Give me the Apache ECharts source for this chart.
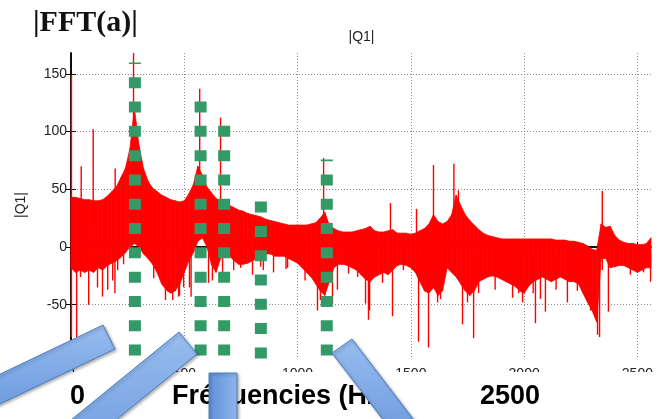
<!DOCTYPE html>
<html><head><meta charset="utf-8">
<script src="https://cdn.jsdelivr.net/npm/echarts@6/dist/echarts.min.js"></script>
<style>html,body{margin:0;padding:0;background:#fff;}#c{width:663px;height:419px;}</style>
</head><body><div id="c"></div>
<script>
// Frequency grid (Hz) of the spectrum envelope
const freqHz = [0,20,40,60,80,100,120,140,160,180,200,220,240,260,280,300,320,340,360,380,400,420,440,460,480,500,520,540,560,580,600,620,640,660,680,700,720,740,760,780,800,820,840,860,880,900,920,940,960,980,1000,1020,1040,1060,1080,1100,1120,1140,1160,1180,1200,1220,1240,1260,1280,1300,1320,1340,1360,1380,1400,1420,1440,1460,1480,1500,1520,1540,1560,1580,1600,1620,1640,1660,1680,1700,1720,1740,1760,1780,1800,1820,1840,1860,1880,1900,1920,1940,1960,1980,2000,2020,2040,2060,2080,2100,2120,2140,2160,2180,2200,2220,2240,2260,2280,2300,2320,2340,2360,2380,2400,2420,2440,2460,2480,2500,2520,2540,2560];
// Upper edge of |Q1|
const upperDb = [43,43,42,41,41,40,40,41,44,48,52,60,68,85,120,88,68,57,51,48,45,43,41,40,39,40,46,54,70,62,52,47,42,40,38,36,34,32,31,29,28,27,26,24,23,22,21,20,19,19,19,19,19,20,21,25,30,19,16,14,13,13,13,14,15,16,18,14,13,13,14,15,12,12,12,11,12,14,16,20,28,22,20,22,28,45,36,28,23,19,15,12,10,9,8,7,7,7,7,7,7,7,7,7,7,7,7,6,6,6,5,5,4,3,1,-2,-3,20,17,18,10,6,4,3,3,2,2,3,8];
// Lower edge of the dense part of |Q1|
const lowerDb = [-18,-22,-20,-22,-20,-22,-18,-20,-16,-14,-12,-9,-5,0,3,0,-6,-10,-15,-22,-32,-37,-40,-38,-32,-22,-12,-5,5,8,0,-15,-22,-10,-5,-8,-12,-15,-15,-14,-12,-10,-8,-6,-6,-8,-8,-8,-10,-12,-14,-18,-22,-26,-32,-38,-42,-30,-18,-15,-15,-16,-18,-20,-24,-28,-30,-26,-24,-22,-24,-20,-16,-15,-16,-18,-22,-30,-38,-40,-35,-42,-38,-18,-22,-26,-32,-38,-42,-38,-30,-28,-26,-25,-26,-28,-30,-32,-34,-38,-40,-34,-30,-28,-26,-28,-30,-28,-26,-28,-30,-30,-32,-40,-48,-55,-65,-10,-10,-18,-17,-16,-16,-18,-20,-22,-20,-18,-18];
// Narrow lines [freq, from, to]
const spikes = [
 [2,-78,149],[25,-78,30],[45,20,70],[98,20,102],[195,30,68],[276,20,175],[568,30,137],[660,10,112],
 [1115,0,77],[1410,0,38],[1525,0,33],[1600,0,71],[1690,0,72],[1710,0,49],[2345,-20,48.5],
 [42,-26,-5],[78,-50,-5],[117,-35,-5],[139,-43,-5],[162,-37,-5],[184,-29,-5],[194,-40,-5],[206,-20,-5],[232,-15,-5],
 [365,-27,-5],[417,-46,-5],[429,-39,-5],[449,-46,-5],[475,-43,-5],[479,-42,-5],[497,-35,-5],[523,-35,-5],[530,-43,-5],
 [607,-31,-5],[624,-29,-5],[669,-29,-5],
 [718,-20,-5],[749,-18,-5],[801,-24,-5],[837,-17,-5],[849,-20,-5],[894,-22,-5],[949,-19,-5],[956,-18,-5],[1033,-29,-5],
 [1057,-26,-5],[1088,-55,-5],[1101,-46,-5],
 [1154,-49,-5],[1176,-37,-5],[1225,-23,-5],[1265,-26,-5],[1300,-49,-5],[1313,-63,-5],[1318,-55,-5],
 [1375,-31,-5],[1419,-60,-5],[1467,-20,-5],[1534,-82,-5],[1578,-87,-5],[1618,-48,-5],[1631,-45,-5],[1728,-67,-5],
 [1750,-48,-5],[1777,-79,-5],[1799,-40,-5],[1872,-37,-5],[1949,-44,-5],
 [1976,-40,-5],[1993,-48,-5],[2040,-40,-5],[2050,-66,-5],[2072,-45,-5],[2094,-56,-5],[2141,-37,-5],[2191,-48,-5],
 [2235,-38,-5],[2293,-55,-10],
 [2324,-76,-10],[2333,-78,-10],[2372,-56,-5],[2469,-24,-5],[2527,-22,-5],[2558,-30,-5]
];
// Green dotted marker lines
const markerFreqs = [282, 572, 676, 838, 1129];
const markerFrom = [-94, -94, -94, -96.5, -94];
const markerTo = [159.7, 131.6, 110, 45, 75.8];
const xTicks = [0, 500, 1000, 1500, 2000, 2500];
const yTicks = [-50, 0, 50, 100, 150];

// band segments between consecutive frequencies (built from the arrays above)
const bandSegs = [];
for (let i = 0; i < freqHz.length - 1; i++) {
  bandSegs.push([freqHz[i], lowerDb[i], upperDb[i], freqHz[i + 1], lowerDb[i + 1], upperDb[i + 1]]);
}
const markers = markerFreqs.map((f, i) => [f, markerFrom[i], markerTo[i]]);

const SANS = "'Liberation Sans', Arial, sans-serif";
function clampY(cs, y) { return Math.max(cs.y, Math.min(cs.y + cs.height, y)); }
function bandRender(params, api) {
  const cs = params.coordSys;
  const pts = [
    api.coord([api.value(0), api.value(2)]),
    api.coord([api.value(3), api.value(5)]),
    api.coord([api.value(3), api.value(4)]),
    api.coord([api.value(0), api.value(1)])
  ].map(p => [p[0], clampY(cs, p[1])]);
  return { type: 'polygon', shape: { points: pts },
    style: { fill: '#ff0000', stroke: '#ff0000', lineWidth: 0.8 } };
}
function spikeRender(params, api) {
  const cs = params.coordSys;
  const a = api.coord([api.value(0), api.value(1)]);
  const b = api.coord([api.value(0), api.value(2)]);
  return { type: 'line', shape: { x1: a[0], y1: clampY(cs, a[1]), x2: b[0], y2: clampY(cs, b[1]) },
    style: { stroke: '#ff0000', lineWidth: 1.4 } };
}
function markerRender(params, api) {
  const a = api.coord([api.value(0), api.value(1)]);
  const b = api.coord([api.value(0), api.value(2)]);
  return { type: 'line', shape: { x1: a[0], y1: a[1], x2: b[0], y2: b[1] },
    style: { stroke: '#339966', lineWidth: 12, lineDash: [11, 13.3], lineCap: 'butt' } };
}
const gridLine = { show: true, lineStyle: { color: '#8a8a8a', width: 1, type: [1, 2] } };
const axisLineBlack = { show: true, lineStyle: { color: '#000', width: 1.5 } };
const tickIn = (vals) => ({ show: true, inside: true, length: 5, customValues: vals, lineStyle: { color: '#000', width: 1 } });
const plain = v => String(v);

const arrowFill = () => new echarts.graphic.LinearGradient(0, 0, 0, 1, [
  { offset: 0, color: '#97bcef' }, { offset: 1, color: '#5f90d8' }]);
const arrowStyle = () => ({ fill: arrowFill(), stroke: '#4d7cbf', lineWidth: 1,
  shadowBlur: 3, shadowColor: 'rgba(0,0,0,0.3)', shadowOffsetX: 1.5, shadowOffsetY: 1.5 });

const chart = echarts.init(document.getElementById('c'), null, { renderer: 'canvas' });
chart.setOption({
  animation: false,
  backgroundColor: '#fff',
  grid: { left: 71, right: 12, top: 53, bottom: 60, show: false },
  xAxis: [
    { type: 'value', min: 0, max: 2560, position: 'bottom', axisLine: axisLineBlack, axisTick: tickIn(xTicks),
      axisLabel: { customValues: xTicks, formatter: plain, margin: 8, fontSize: 14, color: '#222', fontFamily: SANS },
      splitLine: gridLine },
    { type: 'value', min: 0, max: 2560, position: 'top', axisLine: axisLineBlack, axisTick: tickIn(xTicks),
      axisLabel: { show: false }, splitLine: { show: false } }
  ],
  yAxis: [
    { type: 'value', min: -97, max: 168, position: 'left', axisLine: axisLineBlack, axisTick: tickIn(yTicks),
      axisLabel: { customValues: yTicks, formatter: plain, margin: 4, fontSize: 14, color: '#222', fontFamily: SANS },
      splitLine: gridLine },
    { type: 'value', min: -97, max: 168, position: 'right', axisLine: axisLineBlack, axisTick: tickIn(yTicks),
      axisLabel: { show: false }, splitLine: { show: false } }
  ],
  series: [
    { type: 'custom', data: bandSegs, renderItem: bandRender, encode: { x: [0, 3], y: [1, 2, 4, 5] }, silent: true, z: 2 },
    { type: 'custom', data: spikes, renderItem: spikeRender, encode: { x: 0, y: [1, 2] }, silent: true, z: 3 },
    { type: 'custom', data: markers, renderItem: markerRender, encode: { x: 0, y: [1, 2] }, silent: true, z: 4 }
  ],
  graphic: [
    { type: 'text', z: 40, style: { x: 33, y: 23, text: '|FFT(a)|', font: "bold 30px 'Liberation Serif', 'Times New Roman', serif", fill: '#111', textAlign: 'left', textVerticalAlign: 'middle' } },
    { type: 'text', z: 40, style: { x: 361.5, y: 37, text: '|Q1|', font: "14px " + SANS, fill: '#222', textAlign: 'center', textVerticalAlign: 'middle' } },
    { type: 'text', z: 40, x: 21.5, y: 205, rotation: Math.PI / 2, style: { x: 0, y: 0, text: '|Q1|', font: "14px " + SANS, fill: '#222', textAlign: 'center', textVerticalAlign: 'middle' } },
    { type: 'rect', z: 50, shape: { x: 0, y: 372, width: 663, height: 47 }, style: { fill: '#fff' } },
    { type: 'text', z: 60, style: { x: 70, y: 397, text: '0', font: "bold 27px " + SANS, fill: '#000', textAlign: 'left', textVerticalAlign: 'middle' } },
    { type: 'text', z: 60, style: { x: 172, y: 397, text: 'Fréquencies (Hz)', font: "bold 27px " + SANS, fill: '#000', textAlign: 'left', textVerticalAlign: 'middle' } },
    { type: 'text', z: 60, style: { x: 480, y: 397, text: '2500', font: "bold 27px " + SANS, fill: '#000', textAlign: 'left', textVerticalAlign: 'middle' } },
    { type: 'polygon', z: 70, shape: { points: [[103,325],[115,349],[-65,435],[-77,411]] }, style: arrowStyle() },
    { type: 'polygon', z: 70, shape: { points: [[179,332],[197,354],[3,512],[-15,490]] }, style: arrowStyle() },
    { type: 'rect', z: 70, shape: { x: 209, y: 373, width: 28, height: 60 }, style: Object.assign(arrowStyle(), { fill: new echarts.graphic.LinearGradient(0, 0, 1, 0, [{ offset: 0, color: '#5f90d8' }, { offset: 1, color: '#8fb6ec' }]) }) },
    { type: 'polygon', z: 70, shape: { points: [[332,353],[352,339],[443,458],[423,472]] }, style: arrowStyle() }
  ]
});
</script>
</body></html>
